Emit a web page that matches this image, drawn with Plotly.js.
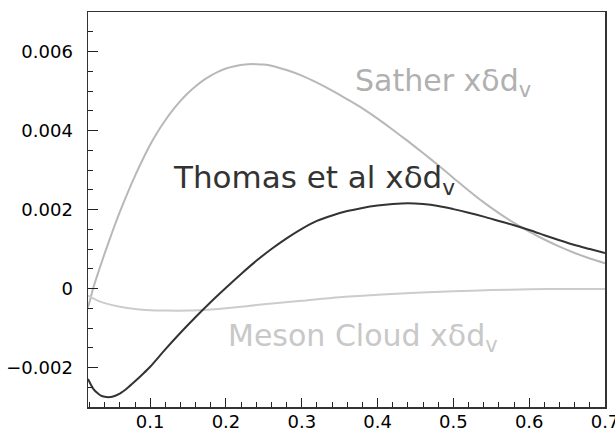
<!DOCTYPE html>
<html>
<head>
<meta charset="utf-8">
<script src="https://cdn.plot.ly/plotly-3.0.1.min.js"></script>
<style>html,body{margin:0;padding:0;background:#fff;}#chart{width:615px;height:430px;}</style>
</head>
<body>
<div id="chart"></div>
<script>
// Sather x delta d_v
const satherX = [0.018, 0.022, 0.025, 0.03, 0.04, 0.05, 0.06, 0.07, 0.08, 0.09, 0.10, 0.11, 0.12, 0.13, 0.14, 0.15, 0.16, 0.17, 0.18, 0.19, 0.20, 0.21, 0.22, 0.23, 0.24, 0.25, 0.26, 0.28, 0.30, 0.32, 0.34, 0.36, 0.38, 0.40, 0.42, 0.44, 0.46, 0.48, 0.50, 0.52, 0.54, 0.56, 0.58, 0.60, 0.62, 0.64, 0.66, 0.68, 0.70];
const satherY = [-0.00048, -0.00020, 0.00002, 0.00032, 0.00089, 0.00143, 0.00194, 0.00241, 0.00285, 0.00326, 0.00364, 0.00397, 0.00426, 0.00452, 0.00475, 0.00495, 0.00512, 0.00527, 0.00539, 0.00549, 0.00557, 0.00562, 0.00566, 0.00568, 0.00568, 0.00567, 0.00564, 0.00553, 0.00539, 0.00521, 0.00501, 0.00479, 0.00456, 0.00430, 0.00402, 0.00373, 0.00343, 0.00312, 0.00280, 0.00248, 0.00218, 0.00191, 0.00166, 0.00144, 0.00124, 0.00106, 0.00090, 0.00076, 0.00064];

// Thomas et al x delta d_v
const thomasX = [0.018, 0.025, 0.03, 0.035, 0.04, 0.045, 0.05, 0.06, 0.07, 0.08, 0.09, 0.10, 0.12, 0.14, 0.16, 0.18, 0.20, 0.22, 0.24, 0.26, 0.28, 0.30, 0.32, 0.34, 0.36, 0.38, 0.40, 0.42, 0.44, 0.46, 0.48, 0.50, 0.52, 0.54, 0.56, 0.58, 0.60, 0.62, 0.64, 0.66, 0.68, 0.70];
const thomasY = [-0.00229, -0.00254, -0.00264, -0.00271, -0.00274, -0.00275, -0.00274, -0.00266, -0.00252, -0.00235, -0.00217, -0.00198, -0.00154, -0.00112, -0.00072, -0.00034, 0.00002, 0.00037, 0.00070, 0.00100, 0.00127, 0.00151, 0.00171, 0.00185, 0.00196, 0.00204, 0.00210, 0.00214, 0.00216, 0.00214, 0.00209, 0.00201, 0.00192, 0.00182, 0.00171, 0.00160, 0.00148, 0.00135, 0.00122, 0.00110, 0.00100, 0.00090];

// Meson Cloud x delta d_v
const mesonX = [0.018, 0.03, 0.04, 0.06, 0.08, 0.10, 0.12, 0.15, 0.18, 0.20, 0.25, 0.30, 0.35, 0.40, 0.45, 0.50, 0.55, 0.60, 0.65, 0.70];
const mesonY = [-0.00018, -0.00030, -0.00037, -0.00046, -0.00052, -0.00055, -0.00056, -0.00056, -0.00053, -0.00050, -0.00040, -0.00031, -0.00022, -0.00016, -0.00011, -0.00007, -0.00004, -0.00002, -0.00001, -0.00001];

const labels = {
  sather: 'Sather xδd<sub>v</sub>',
  thomas: 'Thomas et al xδd<sub>v</sub>',
  meson: 'Meson Cloud xδd<sub>v</sub>'
};

const traces = [
  {x: satherX, y: satherY, mode: 'lines', line: {color: '#b8b8b8', width: 2, shape: 'spline', smoothing: 0.8}},
  {x: mesonX, y: mesonY, mode: 'lines', line: {color: '#cccccc', width: 2, shape: 'spline', smoothing: 0.8}},
  {x: thomasX, y: thomasY, mode: 'lines', line: {color: '#333333', width: 2, shape: 'spline', smoothing: 0.8}}
];

const tickFont = {family: 'DejaVu Sans', size: 18, color: '#000'};
const labFont = 'DejaVu Sans';

const layout = {
  width: 615, height: 430,
  margin: {l: 88, r: 10, t: 12, b: 23},
  paper_bgcolor: '#fff', plot_bgcolor: '#fff',
  showlegend: false,
  xaxis: {
    range: [0.018, 0.7], dtick: 0.1, tick0: 0, ticks: 'inside', ticklen: 9, tickwidth: 1, tickcolor: '#222',
    showline: true, linecolor: '#333', linewidth: 1.5, mirror: true,
    showgrid: false, zeroline: false, tickfont: tickFont, ticklabeloverflow: 'allow', ticklabelstandoff: -2,
    minor: {dtick: 0.02, tick0: 0, ticks: 'inside', ticklen: 5, tickcolor: '#222', showgrid: false}
  },
  yaxis: {
    range: [-0.003, 0.007], dtick: 0.002, tick0: 0, ticks: 'inside', ticklen: 10, tickwidth: 1, tickcolor: '#222',
    showline: true, linecolor: '#333', linewidth: 1.5, mirror: true,
    showgrid: false, zeroline: false, tickfont: tickFont, ticklabelstandoff: 10,
    minor: {dtick: 0.0005, tick0: 0, ticks: 'inside', ticklen: 5, tickcolor: '#222', showgrid: false}
  },
  annotations: [
    {text: labels.sather, x: 0.367, y: 0.00522, xref: 'x', yref: 'y', xanchor: 'left', yanchor: 'middle', showarrow: false, font: {family: labFont, size: 30, color: '#b0b0b0'}},
    {text: labels.thomas, x: 0.127, y: 0.00275, xref: 'x', yref: 'y', xanchor: 'left', yanchor: 'middle', showarrow: false, font: {family: labFont, size: 31, color: '#333333'}},
    {text: labels.meson, x: 0.200, y: -0.00124, xref: 'x', yref: 'y', xanchor: 'left', yanchor: 'middle', showarrow: false, font: {family: labFont, size: 30, color: '#c8c8c8'}}
  ]
};

Plotly.newPlot('chart', traces, layout, {staticPlot: true, displayModeBar: false});
</script>
</body>
</html>
